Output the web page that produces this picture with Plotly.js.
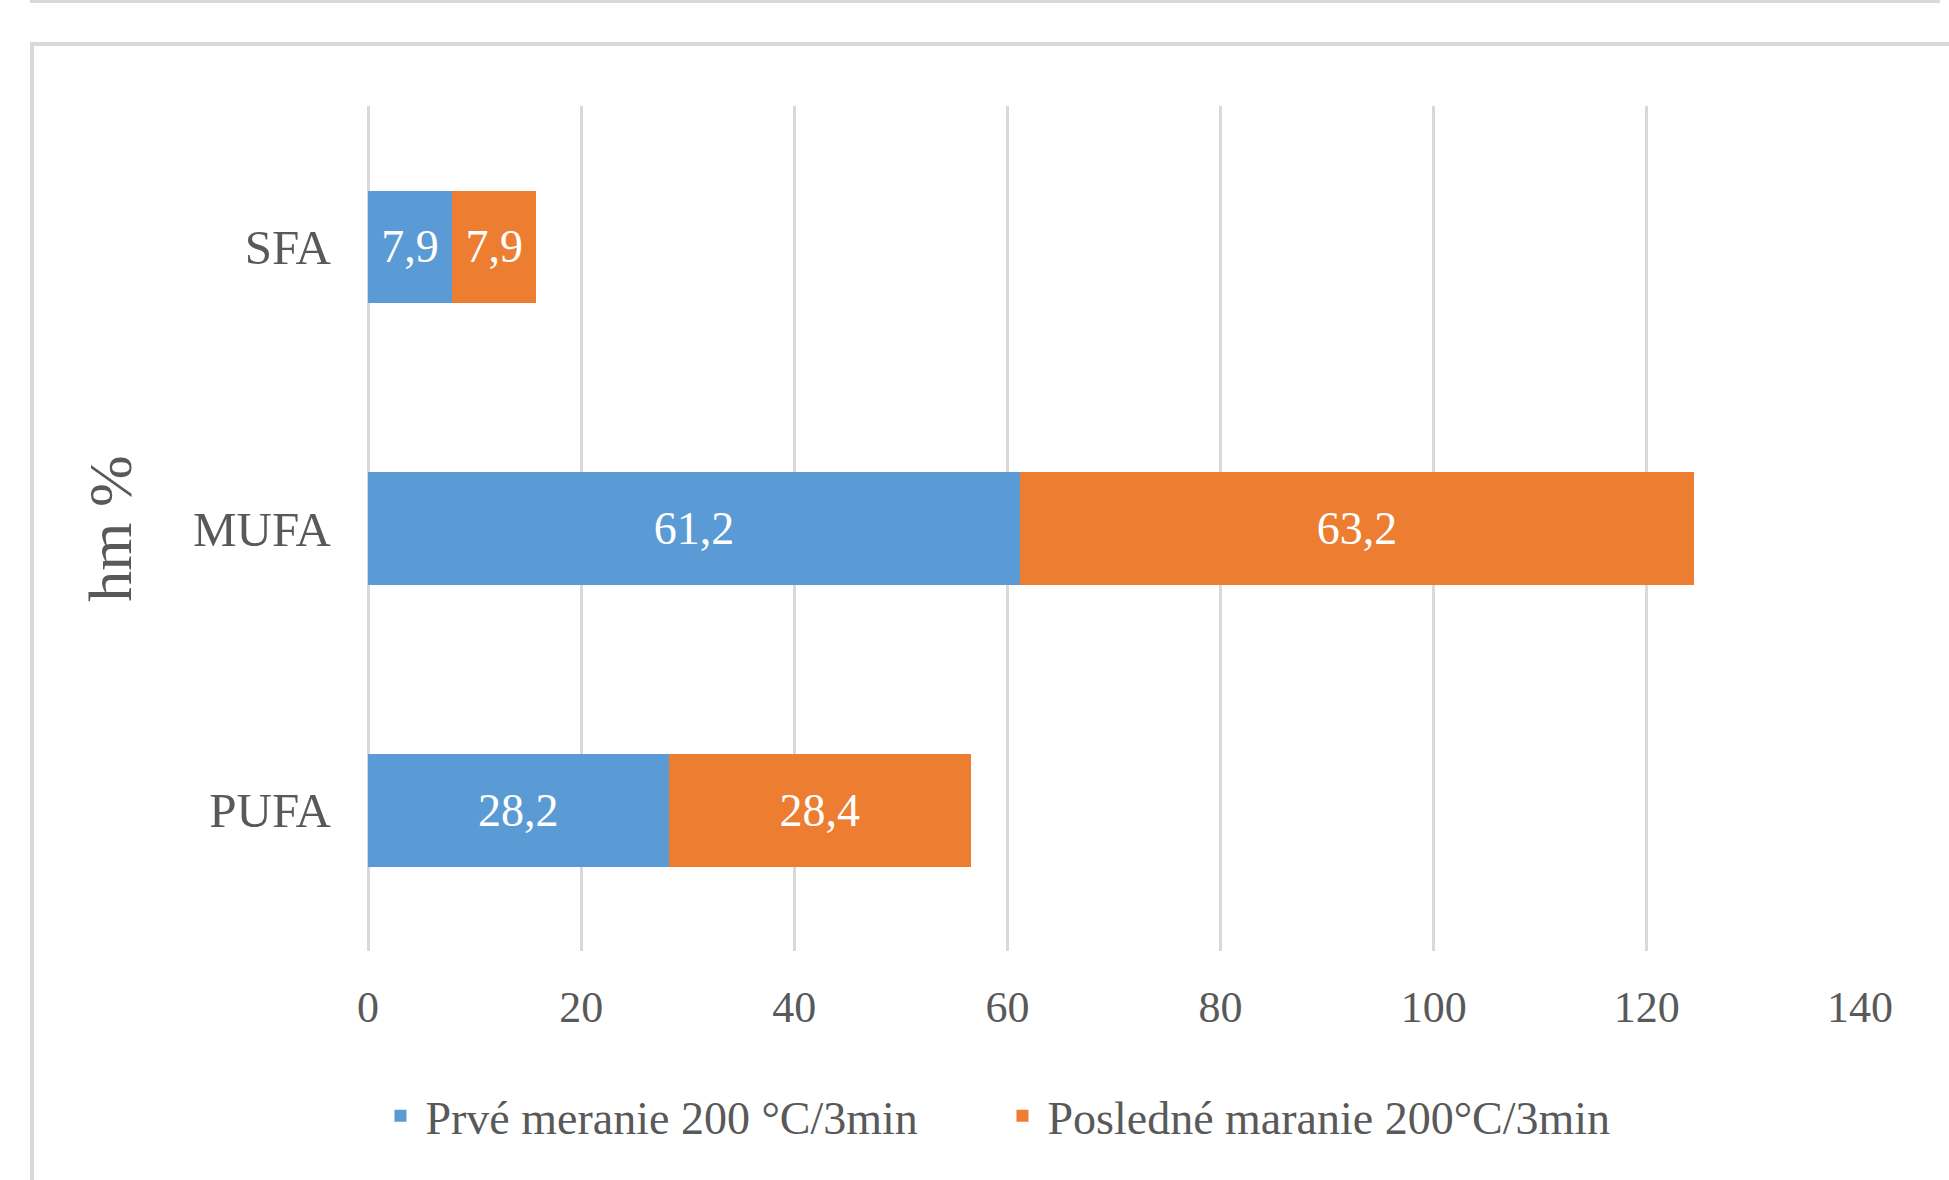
<!DOCTYPE html>
<html>
<head>
<meta charset="utf-8">
<script src="https://cdn.plot.ly/plotly-3.0.1.min.js"></script>
<style>
  html, body { margin: 0; padding: 0; background: #ffffff; }
  #wrap { position: relative; width: 1949px; height: 1180px; overflow: hidden; }
  #topline { position: absolute; left: 30px; top: 0; width: 1910px; height: 3px; background: #d9d9d9; }
  #frame { position: absolute; left: 30px; top: 42px; width: 1940px; height: 1160px;
           border-top: 4px solid #d9d9d9; border-left: 4px solid #d9d9d9; box-sizing: border-box; }
  #chart { position: absolute; left: 0; top: 0; width: 1949px; height: 1180px; }
</style>
</head>
<body>
<div id="wrap">
  <div id="topline"></div>
  <div id="frame"></div>
  <div id="chart"></div>
</div>
<script>
const categories = ['SFA', 'MUFA', 'PUFA'];
const seriesNames = ['Prvé meranie 200 °C/3min', 'Posledné maranie 200°C/3min'];
const firstValues = [7.9, 61.2, 28.2];
const lastValues = [7.9, 63.2, 28.4];
const xTicks = [0, 20, 40, 60, 80, 100, 120, 140];

const fmt = v => v.toFixed(1).replace('.', ',');
const serif = 'Liberation Serif, Times New Roman, serif';

const traces = [
  {
    type: 'bar', orientation: 'h', name: seriesNames[0],
    y: categories, x: firstValues,
    text: firstValues.map(fmt), textposition: 'inside', insidetextanchor: 'middle',
    textfont: { family: serif, size: 46, color: '#ffffff' },
    marker: { color: '#5B9BD5' }, hoverinfo: 'x+name'
  },
  {
    type: 'bar', orientation: 'h', name: seriesNames[1],
    y: categories, x: lastValues,
    text: lastValues.map(fmt), textposition: 'inside', insidetextanchor: 'middle',
    textfont: { family: serif, size: 46, color: '#ffffff' },
    marker: { color: '#ED7D31' }, hoverinfo: 'x+name'
  }
];

const layout = {
  width: 1949, height: 1180,
  paper_bgcolor: 'rgba(0,0,0,0)', plot_bgcolor: 'rgba(0,0,0,0)',
  margin: { l: 368, r: 89, t: 106, b: 229 },
  barmode: 'stack', bargap: 0.6,
  font: { family: serif, color: '#595959', size: 44 },
  xaxis: {
    range: [0, 140], tickvals: xTicks, ticktext: xTicks.map(String),
    showgrid: true, gridcolor: '#d9d9d9', gridwidth: 3,
    zeroline: true, zerolinecolor: '#d9d9d9', zerolinewidth: 3,
    showline: false, ticks: '',
    ticklabelstandoff: 26,
    tickfont: { family: serif, size: 44, color: '#595959' }
  },
  yaxis: {
    type: 'category', categoryorder: 'array', categoryarray: categories,
    autorange: 'reversed', showgrid: false, zeroline: false, showline: false, ticks: '',
    ticklabelstandoff: 36,
    tickfont: { family: serif, size: 49, color: '#595959' },
    title: { text: 'hm %', font: { family: serif, size: 62, color: '#595959' }, standoff: 41 }
  },
  showlegend: true,
  legend: {
    orientation: 'h', x: 0.005, xanchor: 'left', y: -0.195, yanchor: 'middle',
    font: { family: serif, size: 46, color: '#595959' },
    itemwidth: 40, entrywidth: 567, entrywidthmode: 'pixels', traceorder: 'normal'
  }
};

Plotly.newPlot('chart', traces, layout, { staticPlot: true, displayModeBar: false });
</script>
</body>
</html>
